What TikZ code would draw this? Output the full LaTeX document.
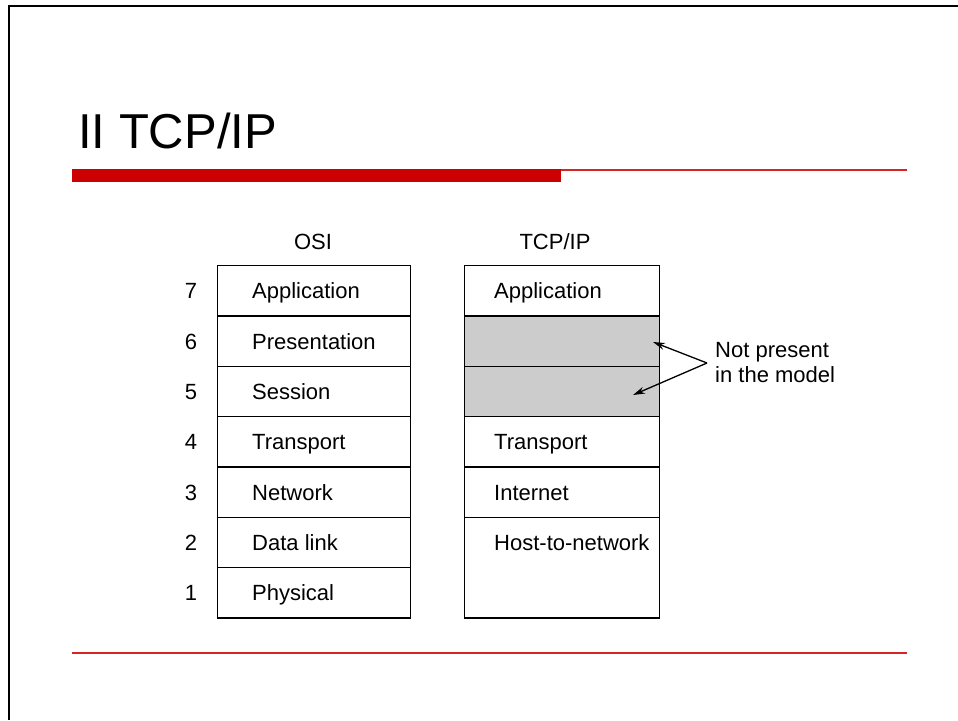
\documentclass[tikz,border=0pt]{standalone}
\usepackage{fontspec}
\setmainfont{Liberation Sans}
\usetikzlibrary{arrows.meta}
\definecolor{slidered}{HTML}{CC0000}
\definecolor{layergray}{HTML}{CCCCCC}
\begin{document}
\begin{tikzpicture}[x=1pt,y=-1pt,
  osirow/.style={draw=black,line width=1.3pt,anchor=north west,minimum width=193pt,minimum height=50.33pt,inner sep=0pt},
  tcprow/.style={draw=black,line width=1.3pt,anchor=north west,minimum width=195pt,minimum height=50.33pt,inner sep=0pt},
  gapcell/.style={tcprow,fill=layergray},
  rowtext/.style={font=\fontsize{22}{26}\selectfont,anchor=base west,inner sep=0pt},
  numlabel/.style={font=\fontsize{22}{26}\selectfont,anchor=base,inner sep=0pt},
  header/.style={font=\fontsize{22}{26}\selectfont,anchor=base,inner sep=0pt},
  pointer/.style={-{Stealth[length=12pt,width=7pt]},line width=1.3pt,black}]
\useasboundingbox (0,0) rectangle (958,720);
\fill[white] (0,0) rectangle (958,720);
% frame
\draw[line width=2.2pt] (9,720) -- (9,6) -- (958,6);
% title
\node[anchor=base west,inner sep=0pt,font=\fontsize{49}{58}\selectfont] (title) at (78,148) {II TCP/IP};
% red rules
\fill[slidered] (72,169) rectangle (561,182);
\draw[slidered!85,line width=1.6pt] (561,170) -- (907,170);
\draw[slidered!85,line width=1.6pt] (72,653) -- (907,653);
% headers
\node[header] (hosi) at (313,249) {OSI};
\node[header] (htcp) at (555,249) {TCP/IP};
% OSI stack
\node[osirow] (o7) at (217,265) {};
\node[osirow] (o6) at (217,315.33) {};
\node[osirow] (o5) at (217,365.67) {};
\node[osirow] (o4) at (217,416) {};
\node[osirow] (o3) at (217,466.33) {};
\node[osirow] (o2) at (217,516.67) {};
\node[osirow] (o1) at (217,567) {};
\foreach \i/\t in {7/Application,6/Presentation,5/Session,4/Transport,3/Network,2/Data link,1/Physical} {
  \node[rowtext] (ot\i) at ([xshift=35pt,yshift=-8pt]o\i.west) {\t};
  \node[numlabel] (n\i) at (191,0 |- ot\i.base) {\i};
}
% TCP/IP stack
\node[tcprow] (t7) at (464,265) {};
\node[gapcell] (t6) at (464,315.33) {};
\node[gapcell] (t5) at (464,365.67) {};
\node[tcprow] (t4) at (464,416) {};
\node[tcprow] (t3) at (464,466.33) {};
\node[tcprow,minimum height=100.67pt] (t2) at (464,516.67) {};
\node[rowtext] (tt7) at ([xshift=30pt,yshift=-8pt]t7.west) {Application};
\node[rowtext] (tt4) at ([xshift=30pt,yshift=-8pt]t4.west) {Transport};
\node[rowtext] (tt3) at ([xshift=30pt,yshift=-8pt]t3.west) {Internet};
\node[rowtext] (tt2) at ([xshift=30pt,yshift=-8pt]t2.north west |- o2.west) {Host-to-network};
% note
\node[anchor=base west,align=left,inner sep=0pt,font=\fontsize{22}{25}\selectfont] (note) at (715,382) {Not present\\in the model};
\coordinate (fork) at (707,363);
\coordinate (tip6) at (653,342);
\coordinate (tip5) at (633,395);
\draw[pointer] (fork) -- (tip6);
\draw[pointer] (fork) -- (tip5);
\end{tikzpicture}
\end{document}
